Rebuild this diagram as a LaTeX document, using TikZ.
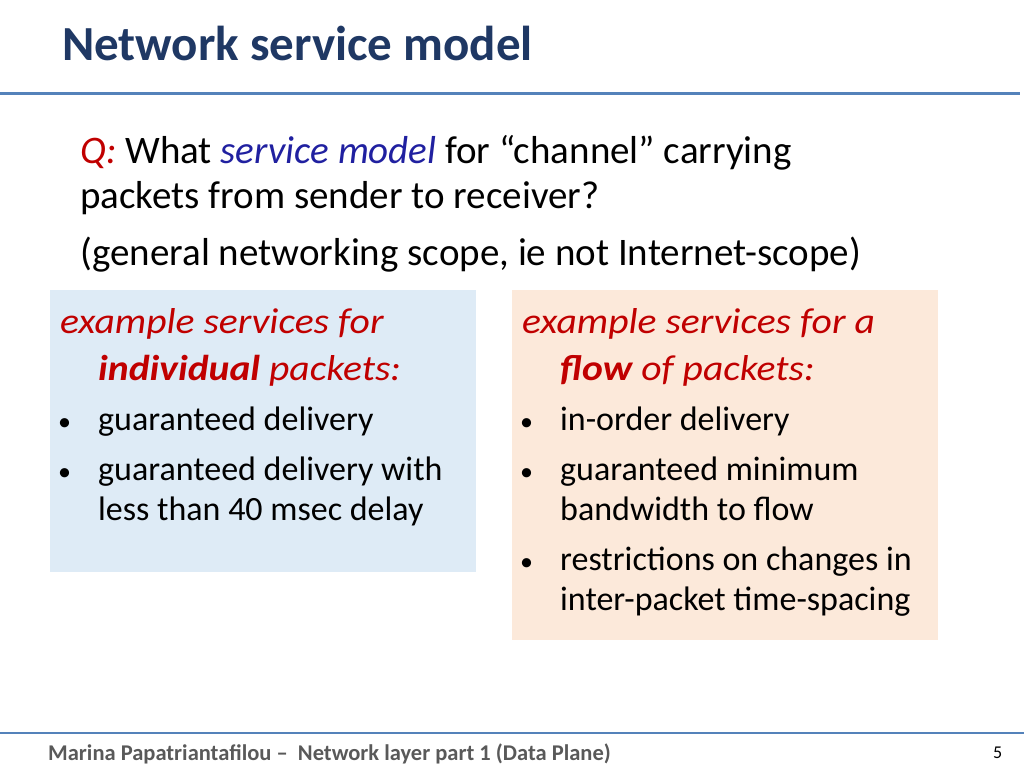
\documentclass[tikz,border=0pt]{standalone}
\usepackage{fontspec}
\setmainfont{Carlito}
\definecolor{ttl}{RGB}{31,56,100}
\definecolor{rule}{RGB}{84,130,186}
\definecolor{lb}{RGB}{222,235,246}
\definecolor{rb}{RGB}{252,233,218}
\definecolor{red}{RGB}{192,0,0}
\definecolor{qb}{RGB}{32,32,160}
\definecolor{ft}{RGB}{89,89,89}
\begin{document}
\begin{tikzpicture}[x=1pt,y=-1pt,
  t/.style={anchor=base west,inner sep=0pt,font=\fontsize{34}{40}\selectfont},
  rt/.style={anchor=base west,inner sep=0pt,text=red,font=\fontsize{36}{40}\selectfont\itshape,xscale=1.1},
  q/.style={anchor=base west,inner sep=0pt,font=\fontsize{39}{46}\selectfont},
  bul/.style={anchor=base west,inner sep=0pt,font=\fontsize{26}{35}\selectfont}]
\useasboundingbox (0,0) rectangle (1024,768);
\node[anchor=base west,inner sep=0pt,text=ttl,font=\fontsize{49}{56}\selectfont\bfseries] (title) at (62,60) {Network service model};
\draw[rule,line width=3pt] (0,93) -- (1020,93);
\node[q] (q1) at (80,163) {\textcolor{red}{\itshape Q:} What \textcolor{qb}{\itshape service model} for “channel” carrying};
\node[q] (q2) at (80,208) {packets from sender to receiver?};
\node[q] (q3) at (80,265) {(general networking scope, ie not Internet-scope)};
\fill[lb] (50,290) rectangle (476,572);
\fill[rb] (512,290) rectangle (938,640);
\node[rt] (l1) at (60,333) {example services for};
\node[rt] (l2) at (98,380) {\bfseries individual\mdseries{} packets:};
\node[bul] (lb1) at (58,430) {•}; \node[t] (lt1) at (98,430) {guaranteed delivery};
\node[bul] (lb2) at (58,480) {•}; \node[t] (lt2) at (98,480) {guaranteed delivery with};
\node[t] (lt3) at (98,520) {less than 40 msec delay};
\node[rt] (r1) at (522,333) {example services for a};
\node[rt] (r2) at (560,380) {\bfseries flow\mdseries{} of packets:};
\node[bul] (rb1) at (520,430) {•}; \node[t] (rt1) at (560,430) {in-order delivery};
\node[bul] (rb2) at (520,480) {•}; \node[t] (rt2) at (560,480) {guaranteed minimum};
\node[t] (rt3) at (560,520) {bandwidth to flow};
\node[bul] (rb3) at (520,570) {•}; \node[t] (rt4) at (560,570) {restrictions on changes in};
\node[t] (rt5) at (560,610) {inter-packet time-spacing};
\draw[rule,line width=2.5pt] (0,733) -- (1024,733);
\node[anchor=base west,inner sep=0pt,text=ft,font=\fontsize{22.5}{26}\selectfont\bfseries] (foot) at (48,760) {Marina Papatriantafilou –\ \ Network layer part 1 (Data Plane)};
\node[anchor=base west,inner sep=0pt,font=\fontsize{18}{22}\selectfont] (pg) at (993,758) {5};
\end{tikzpicture}
\end{document}
